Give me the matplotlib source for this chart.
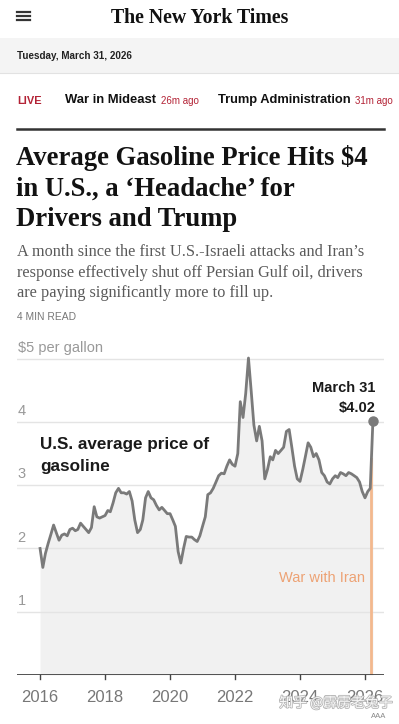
import numpy as np
import pandas as pd
import matplotlib.pyplot as plt
import matplotlib.patheffects as pe
from matplotlib.lines import Line2D
from matplotlib.patches import Rectangle

# monthly average U.S. gasoline price (first of month)
prices_2016 = [2.00, 1.70, 1.92, 2.08, 2.22, 2.37, 2.25, 2.13, 2.21, 2.23, 2.20, 2.30]
prices_2017 = [2.32, 2.28, 2.30, 2.40, 2.35, 2.30, 2.25, 2.33, 2.66, 2.50, 2.48, 2.50]
prices_2018 = [2.52, 2.60, 2.58, 2.72, 2.88, 2.95, 2.88, 2.88, 2.86, 2.90, 2.75, 2.45]
prices_2019 = [2.25, 2.30, 2.45, 2.80, 2.90, 2.80, 2.77, 2.68, 2.61, 2.65, 2.60, 2.55]
prices_2020 = [2.55, 2.45, 2.35, 1.95, 1.77, 2.00, 2.19, 2.18, 2.18, 2.14, 2.11, 2.20]
prices_2021 = [2.35, 2.50, 2.85, 2.88, 2.95, 3.05, 3.15, 3.19, 3.18, 3.30, 3.40, 3.33]
prices_2022 = [3.30, 3.50, 4.32, 4.07, 4.45, 5.01, 4.50, 3.95, 3.70, 3.93, 3.70, 3.10]
prices_2023 = [3.25, 3.45, 3.40, 3.55, 3.50, 3.55, 3.60, 3.85, 3.88, 3.60, 3.30, 3.10]
prices_2024 = [3.06, 3.25, 3.45, 3.67, 3.60, 3.45, 3.50, 3.40, 3.20, 3.15, 3.05, 3.02]
prices_2025 = [3.10, 3.15, 3.12, 3.20, 3.18, 3.15, 3.20, 3.18, 3.15, 3.12, 3.05, 2.90]
prices_2026 = [2.80, 2.90, 2.95]
last_date = "2026-03-31"
last_price = 4.02
war_date = "2026-03-14"

year_ticks = [2016, 2018, 2020, 2022, 2024, 2026]
price_ticks = [1, 2, 3, 4, 5]

prices = (prices_2016 + prices_2017 + prices_2018 + prices_2019 + prices_2020 +
          prices_2021 + prices_2022 + prices_2023 + prices_2024 + prices_2025 + prices_2026)
dates = list(pd.date_range("2016-01-01", periods=len(prices), freq="MS")) + [pd.Timestamp(last_date)]
prices = prices + [last_price]


def frac_year(d):
    return d.year + (d.dayofyear - 1) / 365.0


x = np.array([frac_year(d) for d in dates])
y = np.array(prices)
war_x = frac_year(pd.Timestamp(war_date))

W, H = 399, 724
fig = plt.figure(figsize=(W / 100, H / 100), dpi=100)
fig.patch.set_facecolor("white")


def fx(px):
    return px / W


def fy(py):
    return 1 - py / H


sans = ["Liberation Sans", "DejaVu Sans"]
serif = ["Liberation Serif", "DejaVu Serif"]
red = "#b32235"

# ---- page header ----
for yy in [11.5, 15.5, 19.5]:
    fig.add_artist(Line2D([fx(17), fx(30)], [fy(yy), fy(yy)], color="#333333", lw=1.6))
fig.text(fx(200), fy(18), "The New York Times", family=serif, fontsize=14.3,
         weight="bold", ha="center", va="center", color="#111111")

fig.add_artist(Rectangle((0, fy(73)), 1, fy(38) - fy(73), transform=fig.transFigure,
                         facecolor="#f4f4f4", edgecolor="none"))
fig.add_artist(Line2D([0, 1], [fy(73), fy(73)], color="#e2e2e2", lw=0.8))
fig.text(fx(17), fy(56), "Tuesday, March 31, 2026", family=sans, fontsize=7.1,
         weight="bold", va="center", color="#222222")

fig.text(fx(17), fy(101), "LIVE", family=sans, fontsize=7.9, weight="bold",
         va="center", color=red)
fig.text(fx(65), fy(100), "War in Mideast", family=sans, fontsize=9.4, weight="bold",
         va="center", color="#111111")
fig.text(fx(161), fy(101), "26m ago", family=sans, fontsize=7, va="center", color=red)
fig.text(fx(218), fy(100), "Trump Administration", family=sans, fontsize=9.3,
         weight="bold", va="center", color="#111111")
fig.text(fx(355), fy(101), "31m ago", family=sans, fontsize=7, va="center", color=red)

fig.add_artist(Line2D([fx(17), fx(384)], [fy(129), fy(129)], color="#333333", lw=1.8))

# ---- headline ----
title_lines = ["Average Gasoline Price Hits $4", "in U.S., a \u2018Headache\u2019 for",
               "Drivers and Trump"]
for i, line in enumerate(title_lines):
    fig.text(fx(16), fy(158 + 31 * i), line, family=serif, fontsize=19.2,
             weight="bold", va="center", color="#121212")

sub_lines = ["A month since the first U.S.-Israeli attacks and Iran\u2019s",
             "response effectively shut off Persian Gulf oil, drivers",
             "are paying significantly more to fill up."]
for i, line in enumerate(sub_lines):
    fig.text(fx(17), fy(252 + 20.5 * i), line, family=serif, fontsize=11.7,
             va="center", color="#5a5a5a")

fig.text(fx(17), fy(317), "4 MIN READ", family=sans, fontsize=7.4, va="center",
         color="#777777")

# ---- chart ----
ax_left, ax_right, ax_top, ax_bottom = 17, 384, 346, 675
ax = fig.add_axes([fx(ax_left), fy(ax_bottom), fx(ax_right - ax_left), fy(ax_top) - fy(ax_bottom)])
ax.set_xlim(2015.29, 2026.585)
ax.set_ylim(0, 5.2)
ax.axis("off")

for p in price_ticks:
    ax.axhline(p, color="#e4e4e4", lw=1.0, zorder=1)

ax.fill_between(x, 0, y, color="#f1f1f1", lw=0, zorder=0)
ax.plot(x, y, color="#7a7a7a", lw=2.0, zorder=3, solid_joinstyle="round")
ax.plot([x[-1]], [y[-1]], "o", color="#7a7a7a", ms=6.5, zorder=4)

war_top = np.interp(war_x, x, y)
ax.plot([war_x, war_x], [0, war_top], color="#f3b88e", lw=2.0, zorder=2)
ax.text(2026.0, 1.53, "War with Iran", fontsize=10.5, family=sans,
        color="#eda274", ha="right", va="center")

# axis baseline and ticks
ax.axhline(0, color="#444444", lw=1.3, zorder=5)
for yr in year_ticks:
    ax.plot([yr, yr], [0, -0.07], color="#444444", lw=1.0, clip_on=False, zorder=5)
    ax.text(yr, -0.35, str(yr), fontsize=12, family=sans, color="#777777",
            ha="center", va="center")

for p in price_ticks:
    label = "$5 per gallon" if p == 5 else str(p)
    ax.text(2015.31, p + 0.17, label, fontsize=10.5, family=sans, color="#999999",
            ha="left", va="center")

ax.text(2016.0, 3.47, "U.S. average price of\ngasoline", fontsize=12.3, family=sans,
        weight="bold", color="#1a1a1a", ha="left", va="center", linespacing=1.55)
ax.text(2026.32, 4.38, "March 31\n$4.02", fontsize=10.5, family=sans, weight="bold",
        color="#1a1a1a", ha="right", va="center", linespacing=1.55)

# ---- watermark ----
fig.text(fx(336), fy(703), "\u77e5\u4e4e @\u9739\u96f3\u8001\u5154\u5b50",
         family=["Noto Sans CJK SC", "DejaVu Sans"], fontsize=10, color="white",
         ha="center", va="center", alpha=0.9,
         path_effects=[pe.withStroke(linewidth=1.2, foreground="#b0b0b0")])
fig.text(fx(379), fy(717), "AAA", family=sans, fontsize=5.5, color="#888888",
         ha="center", va="center")

fig.savefig("out.png", dpi=100)
